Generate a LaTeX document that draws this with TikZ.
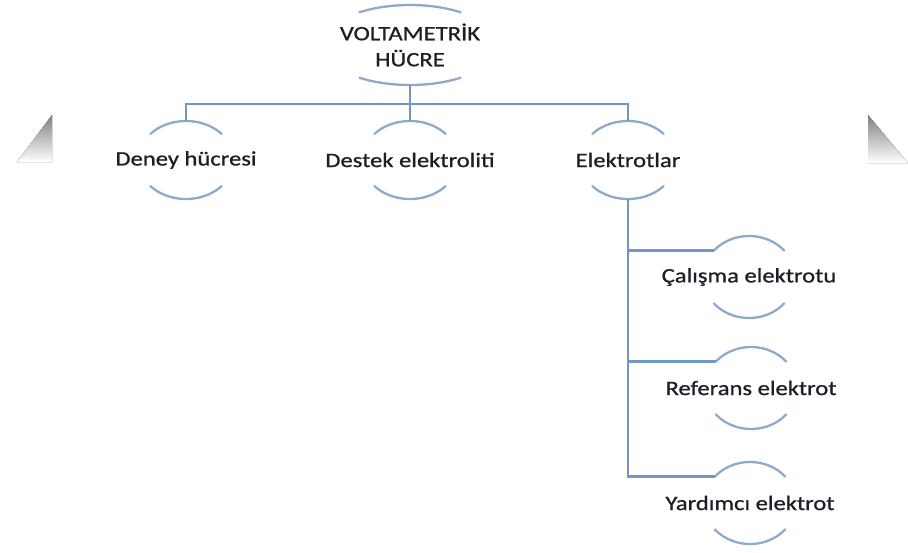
\documentclass[tikz,border=0pt]{standalone}
\usepackage{fontspec}
\setmainfont{Carlito}[FakeStretch=1.2, FakeBold=0.9]
\definecolor{linkblue}{HTML}{7196C4}
\definecolor{arcblue}{HTML}{8EA9CA}
\definecolor{inkdark}{HTML}{1E1E28}
\definecolor{shade}{HTML}{F4F4F4}

% open "lens" outline: an arc above and an arc below the label
% #1 node name, #2 x radius, #3 y radius, #4 half opening angle from vertical
\newcommand\lensarcs[4]{%
  \draw[arcstyle] (#1.center) ++({90+#4}:#2 and #3)
    arc[start angle={90+#4}, end angle={90-#4}, x radius=#2, y radius=#3];
  \draw[arcstyle] (#1.center) ++({270-#4}:#2 and #3)
    arc[start angle={270-#4}, end angle={270+#4}, x radius=#2, y radius=#3];
  \path (#1.center) ++(0,#3) coordinate (#1-top);
  \path (#1.center) ++(0,-#3) coordinate (#1-bot);
  \path (#1.center) ++({90+#4}:#2 and #3) coordinate (#1-in);
}

\tikzset{
  lbl/.style={inner sep=0pt, text=inkdark, font=\fontsize{20.5}{26}\selectfont},
  link/.style={draw=linkblue, line width=2.6pt},
  arcstyle/.style={draw=arcblue, line width=2.3pt, line cap=round},
}

\begin{document}
\begin{tikzpicture}[x=1pt,y=1pt]
  \useasboundingbox (0,0) rectangle (908,-552);

  % faint side markers
  \fill[shade] (17,-162) -- (52,-115) -- (52,-162) -- cycle;
  \fill[shade] (868,-115) -- (868,-163) -- (908,-163) -- cycle;

  % labels
  \node[lbl, align=center] (root) at (410,-45) {VOLTAMETRİK\\HÜCRE};
  \node[lbl] (deney)  at (186,-160) {Deney hücresi};
  \node[lbl] (destek) at (410,-160) {Destek elektroliti};
  \node[lbl] (elek)   at (628,-160) {Elektrotlar};
  \node[lbl] (cal)    at (749,-277) {Çalışma elektrotu};
  \node[lbl] (ref)    at (751,-388) {Referans elektrot};
  \node[lbl] (yard)   at (750,-503) {Yardımcı elektrot};

  % arcs round each label
  \lensarcs{root}{88}{40}{35}
  \lensarcs{deney}{48}{39}{48}
  \lensarcs{destek}{48}{39}{48}
  \lensarcs{elek}{48}{39}{48}
  \lensarcs{cal}{46}{41}{50}
  \lensarcs{ref}{46}{41}{50}
  \lensarcs{yard}{46}{41}{50}

  % first level
  \coordinate (bus) at (0,-104);
  \draw[link] (root-bot) -- (destek-top);
  \draw[link] (deney-top) -- (deney-top|-bus) -- (elek-top|-bus) -- (elek-top);

  % second level
  \draw[link] (elek-bot) |- (yard-in);
  \draw[link] (elek-bot|-cal-in) -- (cal-in);
  \draw[link] (elek-bot|-ref-in) -- (ref-in);
\end{tikzpicture}
\end{document}
